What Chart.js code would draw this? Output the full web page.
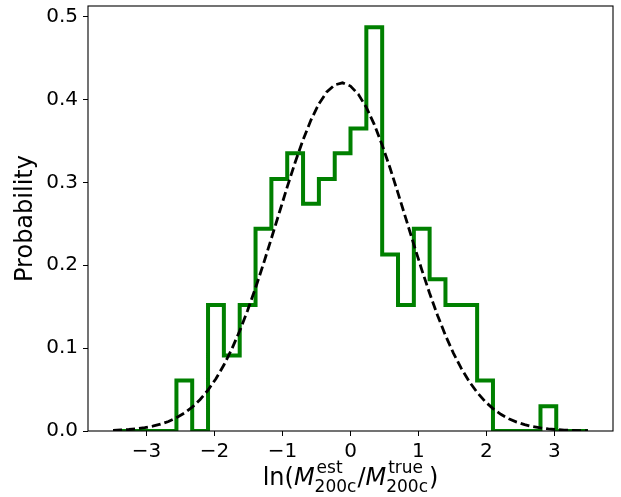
<!DOCTYPE html>
<html>
<head>
<meta charset="utf-8">
<script src="https://cdn.jsdelivr.net/npm/chart.js@4.4.1/dist/chart.umd.min.js"></script>
<style>
  html, body { margin: 0; padding: 0; background: #fff; }
  #wrap { width: 621px; height: 497px; position: relative; }
</style>
</head>
<body>
<div id="wrap"><canvas id="c"></canvas></div>
<script>
// ---- data ----
const binEdges = [-3.493, -3.260, -3.027, -2.794, -2.561, -2.329, -2.096, -1.863, -1.630, -1.397,
  -1.164, -0.931, -0.698, -0.465, -0.232, 0.000, 0.233, 0.466, 0.699, 0.932,
  1.164, 1.397, 1.630, 1.863, 2.096, 2.329, 2.562, 2.795, 3.027, 3.260, 3.493];
const binHeights = [0, 0, 0, 0, 0.061, 0, 0.152, 0.091, 0.152, 0.244,
  0.304, 0.335, 0.274, 0.304, 0.335, 0.365, 0.487, 0.213, 0.152, 0.244,
  0.183, 0.152, 0.152, 0.061, 0, 0, 0, 0.030, 0, 0];
const curveX = [-3.493, -3.377, -3.260, -3.144, -3.027, -2.911, -2.795, -2.678, -2.562, -2.445,
  -2.329, -2.212, -2.096, -1.980, -1.863, -1.747, -1.630, -1.514, -1.397, -1.281,
  -1.165, -1.048, -0.932, -0.815, -0.699, -0.582, -0.466, -0.350, -0.233, -0.117,
  0.000, 0.116, 0.233, 0.349, 0.466, 0.582, 0.699, 0.815, 0.931, 1.048,
  1.164, 1.281, 1.397, 1.514, 1.630, 1.746, 1.863, 1.979, 2.096, 2.212,
  2.329, 2.445, 2.562, 2.678, 2.795, 2.911, 3.027, 3.144, 3.260, 3.377, 3.493];
const curveY = [0.0008, 0.0012, 0.0018, 0.0027, 0.0040, 0.0058, 0.0082, 0.0115, 0.0159, 0.0216,
  0.0288, 0.0380, 0.0494, 0.0631, 0.0796, 0.0987, 0.1208, 0.1454, 0.1726, 0.2016,
  0.2320, 0.2633, 0.2941, 0.3239, 0.3510, 0.3751, 0.3946, 0.4089, 0.4175, 0.4200,
  0.4161, 0.4061, 0.3904, 0.3699, 0.3450, 0.3172, 0.2870, 0.2561, 0.2251, 0.1947,
  0.1661, 0.1394, 0.1154, 0.0940, 0.0755, 0.0598, 0.0465, 0.0357, 0.0270, 0.0201,
  0.0147, 0.0107, 0.0076, 0.0053, 0.0037, 0.0025, 0.0017, 0.0011, 0.0007, 0.0005, 0.0003];
const xTicks = [-3, -2, -1, 0, 1, 2, 3];
const xTickLabels = ['\u22123', '\u22122', '\u22121', '0', '1', '2', '3'];
const yTicks = [0, 0.1, 0.2, 0.3, 0.4, 0.5];
const yTickLabels = ['0.0', '0.1', '0.2', '0.3', '0.4', '0.5'];
const yTitle = 'Probability';

// ---- build step outline of the histogram ----
const histPoints = [{x: binEdges[0], y: 0}];
for (let i = 0; i < binHeights.length; i++) histPoints.push({x: binEdges[i], y: binHeights[i]});
histPoints.push({x: binEdges[binEdges.length - 1], y: binHeights[binHeights.length - 1]});
histPoints.push({x: binEdges[binEdges.length - 1], y: 0});
const curvePoints = curveX.map((x, i) => ({x: x, y: curveY[i]}));

Chart.defaults.font.family = "'DejaVu Sans', sans-serif";
Chart.defaults.color = '#000';

const framePlugin = {
  id: 'frame',
  afterDatasetsDraw(chart) {
    const {ctx, chartArea: a} = chart;
    ctx.save();
    ctx.strokeStyle = '#000';
    ctx.lineWidth = 1.1;
    ctx.strokeRect(a.left, a.top, a.right - a.left, a.bottom - a.top);
    ctx.restore();
  }
};

const xLabelPlugin = {
  id: 'xlabel',
  afterDraw(chart) {
    const {ctx, chartArea: a} = chart;
    const mainF = "24px 'DejaVu Sans'";
    const itF = "oblique 24px 'DejaVu Sans'";
    const scF = "17px 'DejaVu Sans'";
    const base = 485, supB = 473, subB = 492;
    const segs = [
      {t: 'ln(', f: mainF},
      {t: 'M', f: itF},
      {sup: 'est', sub: '200c'},
      {t: '/', f: mainF},
      {t: 'M', f: itF},
      {sup: 'true', sub: '200c'},
      {t: ')', f: mainF}
    ];
    ctx.save();
    ctx.fillStyle = '#000';
    ctx.textBaseline = 'alphabetic';
    ctx.textAlign = 'left';
    let total = 0;
    segs.forEach(s => {
      if (s.t) { ctx.font = s.f; s.w = ctx.measureText(s.t).width; }
      else { ctx.font = scF; s.w = Math.max(ctx.measureText(s.sup).width + 2, ctx.measureText(s.sub).width) + 1; }
      total += s.w;
    });
    let x = (a.left + a.right) / 2 - total / 2;
    segs.forEach(s => {
      if (s.t) { ctx.font = s.f; ctx.fillText(s.t, x, base); }
      else {
        ctx.font = scF;
        ctx.fillText(s.sup, x + 2, supB);
        ctx.fillText(s.sub, x, subB);
      }
      x += s.w;
    });
    ctx.restore();
  }
};

new Chart(document.getElementById('c'), {
  type: 'scatter',
  data: {
    datasets: [
      {
        data: curvePoints,
        showLine: true,
        borderColor: '#000',
        borderWidth: 2.8,
        borderDash: [9, 4],
        pointRadius: 0,
        fill: false,
        order: 0
      },
      {
        data: histPoints,
        showLine: true,
        stepped: 'before',
        borderColor: '#008000',
        borderWidth: 4,
        borderJoinStyle: 'miter',
        pointRadius: 0,
        fill: false,
        clip: 0,
        order: 1
      }
    ]
  },
  options: {
    responsive: true,
    maintainAspectRatio: false,
    devicePixelRatio: 1,
    animation: false,
    layout: { padding: { left: 0, right: 8, top: 6, bottom: 0 } },
    plugins: { legend: { display: false }, tooltip: { enabled: false } },
    scales: {
      x: {
        type: 'linear',
        min: -3.862,
        max: 3.862,
        afterBuildTicks: s => { s.ticks = xTicks.map(v => ({value: v})); },
        afterFit: s => { s.height = 66; s.paddingLeft = 0; s.paddingRight = 0; },
        border: { display: false },
        grid: { drawOnChartArea: false, drawTicks: true, tickLength: 5, color: '#000', lineWidth: 1 },
        ticks: {
          padding: 4,
          font: { size: 20 },
          color: '#000',
          maxRotation: 0,
          callback: (v) => xTickLabels[xTicks.indexOf(v)]
        }
      },
      y: {
        type: 'linear',
        min: 0,
        max: 0.5127,
        afterBuildTicks: s => { s.ticks = yTicks.map(v => ({value: v})); },
        afterFit: s => { s.width = 88; s.paddingTop = 0; s.paddingBottom = 0; },
        border: { display: false },
        grid: { drawOnChartArea: false, drawTicks: true, tickLength: 5, color: '#000', lineWidth: 1 },
        title: { display: true, text: yTitle, font: { size: 24 }, color: '#000', padding: { top: 11, bottom: 0 } },
        ticks: {
          padding: 5,
          font: { size: 20 },
          color: '#000',
          callback: (v) => yTickLabels[yTicks.indexOf(v)]
        }
      }
    }
  },
  plugins: [framePlugin, xLabelPlugin]
});
</script>
</body>
</html>
